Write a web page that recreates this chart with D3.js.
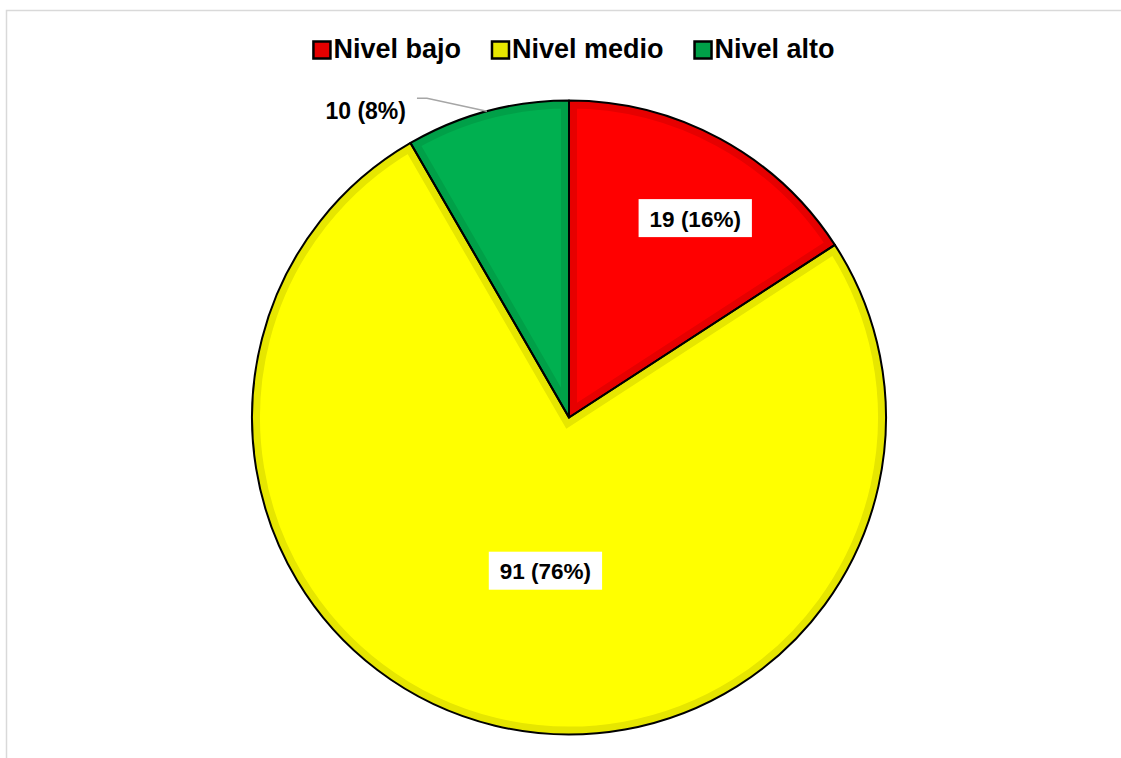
<!DOCTYPE html>
<html>
<head>
<meta charset="utf-8">
<script src="https://cdn.jsdelivr.net/npm/d3@7"></script>
<style>
  html, body { margin: 0; padding: 0; background: #fff; }
  svg { display: block; }
  text { font-family: "Liberation Sans", Arial, sans-serif; font-weight: bold; fill: #000; }
</style>
</head>
<body>
<svg id="chart" width="1121" height="758"></svg>
<script>
// ---- data ----
const categories = ["Nivel bajo", "Nivel medio", "Nivel alto"];
const values = [19, 91, 10];
const percents = ["16%", "76%", "8%"];
const fillColors = ["#ff0000", "#ffff00", "#00b050"];
const bandColors = ["#e60000", "#e6e600", "#00a048"];

const W = 1121, H = 758;
const svg = d3.select("#chart");

// chart frame
svg.append("rect")
  .attr("x", 6.5).attr("y", 10.5)
  .attr("width", W + 20).attr("height", H + 20)
  .attr("fill", "none").attr("stroke", "#d9d9d9").attr("stroke-width", 1.5);

const cx = 569, cy = 417.5, r = 317;

const pie = d3.pie().sort(null).value(d => d)(values);
const arc = d3.arc().innerRadius(0).outerRadius(r);

const g = svg.append("g").attr("transform", `translate(${cx},${cy})`);
const defs = svg.append("defs");

pie.forEach((d, i) => {
  defs.append("clipPath").attr("id", "clip" + i)
    .append("path").attr("d", arc(d));
});

g.selectAll("path.slice").data(pie).join("path")
  .attr("class", "slice")
  .attr("d", arc)
  .attr("fill", (d, i) => fillColors[i])
  .attr("stroke", (d, i) => bandColors[i])
  .attr("stroke-width", 16)
  .attr("stroke-linejoin", "miter")
  .attr("clip-path", (d, i) => `url(#clip${i})`);

g.selectAll("path.outline").data(pie).join("path")
  .attr("class", "outline")
  .attr("d", arc)
  .attr("fill", "none")
  .attr("stroke", "#000")
  .attr("stroke-width", 2)
  .attr("stroke-linejoin", "round");

// ---- data labels ----
const fontSize = 22.5;
function labelText(i) { return `${values[i]} (${percents[i]})`; }
const midAngle = d => (d.startAngle + d.endAngle) / 2;

// inside labels (boxed) for slices 0 and 1
const insideSpec = [
  { idx: 0, dr: 236, da: 0.067 },
  { idx: 1, dr: 155, da: -0.083 }
];
insideSpec.forEach(s => {
  const d = pie[s.idx];
  const [x, y] = d3.pointRadial(midAngle(d) + s.da, s.dr);
  const lg = g.append("g").attr("transform", `translate(${x},${y})`);
  const t = lg.append("text")
    .attr("text-anchor", "middle")
    .attr("y", 8.5)
    .attr("font-size", fontSize)
    .text(labelText(s.idx));
  const w = t.node().getComputedTextLength();
  lg.insert("rect", "text")
    .attr("x", -w / 2 - 11).attr("y", -19)
    .attr("width", w + 22).attr("height", 38)
    .attr("fill", "#fff");
});

// outside label with leader line for slice 2
{
  const d = pie[2];
  const a = midAngle(d);
  const [ex, ey] = d3.pointRadial(a, r);
  const [bx, by] = [ex - 60, ey - 13];
  g.append("polyline")
    .attr("points", `${ex},${ey} ${bx},${by} ${bx - 10},${by}`)
    .attr("fill", "none").attr("stroke", "#a6a6a6").attr("stroke-width", 1.5);
  g.append("text")
    .attr("x", bx - 21).attr("y", by + 21)
    .attr("text-anchor", "end")
    .attr("font-size", fontSize + 0.5)
    .text(labelText(2));
}

// ---- legend ----
const legend = svg.append("g");
const legFont = 27, sq = 17, gapAfterSq = 3, gapItems = 31;
let xpos = 0;
categories.forEach((c, i) => {
  const item = legend.append("g").attr("transform", `translate(${xpos},0)`);
  item.append("rect")
    .attr("x", 0).attr("y", -sq + 0.5).attr("width", sq).attr("height", sq)
    .attr("fill", bandColors[i]).attr("stroke", "#000").attr("stroke-width", 2.5);
  const t = item.append("text")
    .attr("x", sq + gapAfterSq).attr("y", 0)
    .attr("font-size", legFont)
    .text(c);
  xpos += sq + gapAfterSq + t.node().getComputedTextLength() + gapItems;
});
const totalW = xpos - gapItems;
legend.attr("transform", `translate(${574 - totalW / 2},58)`);
</script>
</body>
</html>
